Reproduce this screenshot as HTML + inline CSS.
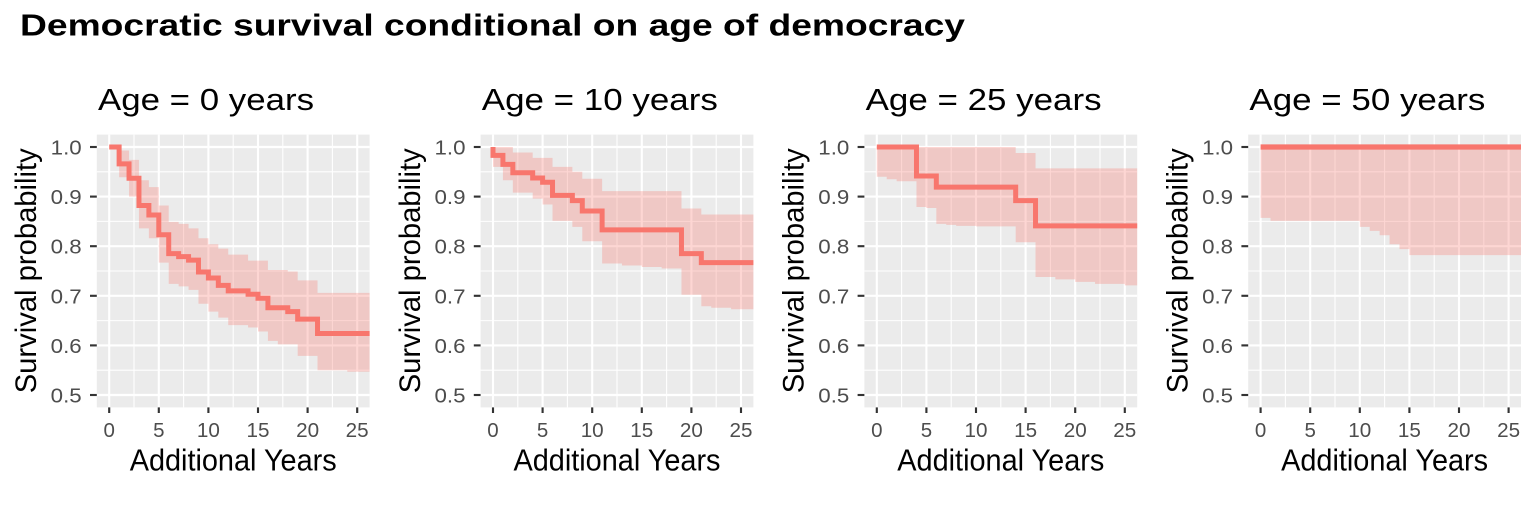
<!DOCTYPE html>
<html><head><meta charset="utf-8"><style>
html,body{margin:0;padding:0;background:#fff;}
svg{display:block;}
text{font-family:"Liberation Sans",Arial,sans-serif;}
.tl{font-size:20.5px;fill:#4D4D4D;}
.at{font-size:31px;fill:#000;}
.st{font-size:31px;fill:#000;}
</style></head><body>
<svg width="1536" height="518" viewBox="0 0 1536 518" xmlns="http://www.w3.org/2000/svg">
<defs><clipPath id="pc"><rect x="96.8" y="134.6" width="272.8" height="272.8"/></clipPath></defs>
<rect width="1536" height="518" fill="#fff"/>
<text x="20" y="35.5" font-size="30.5" font-weight="bold" textLength="945" lengthAdjust="spacingAndGlyphs" fill="#000">Democratic survival conditional on age of democracy</text>

<!-- PANEL 1 -->
<g>
<rect x="96.8" y="134.6" width="272.8" height="272.8" fill="#EBEBEB"/>
<g stroke="#fff" stroke-width="1.07">
<line x1="134" y1="134.6" x2="134" y2="407.4"/><line x1="183.6" y1="134.6" x2="183.6" y2="407.4"/><line x1="233.2" y1="134.6" x2="233.2" y2="407.4"/><line x1="282.8" y1="134.6" x2="282.8" y2="407.4"/><line x1="332.4" y1="134.6" x2="332.4" y2="407.4"/>
<line x1="96.8" y1="171.8" x2="369.6" y2="171.8"/><line x1="96.8" y1="221.4" x2="369.6" y2="221.4"/><line x1="96.8" y1="271" x2="369.6" y2="271"/><line x1="96.8" y1="320.6" x2="369.6" y2="320.6"/><line x1="96.8" y1="370.2" x2="369.6" y2="370.2"/>
</g>
<g stroke="#fff" stroke-width="2.13">
<line x1="109.2" y1="134.6" x2="109.2" y2="407.4"/><line x1="158.8" y1="134.6" x2="158.8" y2="407.4"/><line x1="208.4" y1="134.6" x2="208.4" y2="407.4"/><line x1="258" y1="134.6" x2="258" y2="407.4"/><line x1="307.6" y1="134.6" x2="307.6" y2="407.4"/><line x1="357.2" y1="134.6" x2="357.2" y2="407.4"/>
<line x1="96.8" y1="147" x2="369.6" y2="147"/><line x1="96.8" y1="196.6" x2="369.6" y2="196.6"/><line x1="96.8" y1="246.2" x2="369.6" y2="246.2"/><line x1="96.8" y1="295.8" x2="369.6" y2="295.8"/><line x1="96.8" y1="345.4" x2="369.6" y2="345.4"/><line x1="96.8" y1="395" x2="369.6" y2="395"/>
</g>
<g clip-path="url(#pc)"><g transform="matrix(9.92,0,0,-496,109.2,643)">
<path d="M1,.993 H2 V.974 H3 V.933 H4 V.919 H5 V.882 H6 V.849 H7 V.845 H8 V.836 H9 V.816 H10 V.804 H11 V.795 H12 V.783 H14 V.771 H16 V.752 H18 V.749 H19 V.731 H21 V.706 H27 V.547 H24 V.55 H21 V.579 H19 V.602 H17 V.609 H16 V.628 H15 V.636 H14 V.641 H12 V.656 H11 V.668 H10 V.684 H9 V.712 H8 V.719 H7 V.724 H6 V.767 H5 V.816 H4 V.836 H3 V.9 H2 V.939 H1 Z" fill="#F8766D" fill-opacity="0.3"/>
<path d="M0,1 H1 V.966 H2 V.937 H3 V.882 H4 V.863 H5 V.823 H6 V.785 H7 V.779 H8 V.772 H9 V.748 H10 V.736 H11 V.721 H12 V.71 H14 V.703 H15 V.695 H16 V.676 H18 V.668 H19 V.653 H21 V.624 H27" fill="none" stroke="#F8766D" stroke-width="5" vector-effect="non-scaling-stroke"/>
</g></g>
<g stroke="#333" stroke-width="2.13">
<line x1="90" y1="147" x2="96.8" y2="147"/><line x1="90" y1="196.6" x2="96.8" y2="196.6"/><line x1="90" y1="246.2" x2="96.8" y2="246.2"/><line x1="90" y1="295.8" x2="96.8" y2="295.8"/><line x1="90" y1="345.4" x2="96.8" y2="345.4"/><line x1="90" y1="395" x2="96.8" y2="395"/>
<line x1="109.2" y1="407.4" x2="109.2" y2="413"/><line x1="158.8" y1="407.4" x2="158.8" y2="413"/><line x1="208.4" y1="407.4" x2="208.4" y2="413"/><line x1="258" y1="407.4" x2="258" y2="413"/><line x1="307.6" y1="407.4" x2="307.6" y2="413"/><line x1="357.2" y1="407.4" x2="357.2" y2="413"/>
</g>
<g class="tl" text-anchor="end">
<text x="81.7" y="154.5" textLength="31" lengthAdjust="spacingAndGlyphs">1.0</text>
<text x="81.7" y="204.1" textLength="31" lengthAdjust="spacingAndGlyphs">0.9</text>
<text x="81.7" y="253.7" textLength="31" lengthAdjust="spacingAndGlyphs">0.8</text>
<text x="81.7" y="303.3" textLength="31" lengthAdjust="spacingAndGlyphs">0.7</text>
<text x="81.7" y="352.9" textLength="31" lengthAdjust="spacingAndGlyphs">0.6</text>
<text x="81.7" y="402.5" textLength="31" lengthAdjust="spacingAndGlyphs">0.5</text>
</g>
<g class="tl" text-anchor="middle">
<text x="109.2" y="437">0</text><text x="158.8" y="437">5</text>
<text x="208.4" y="437" textLength="23" lengthAdjust="spacingAndGlyphs">10</text>
<text x="258" y="437" textLength="23" lengthAdjust="spacingAndGlyphs">15</text>
<text x="307.6" y="437" textLength="23" lengthAdjust="spacingAndGlyphs">20</text>
<text x="357.2" y="437" textLength="23" lengthAdjust="spacingAndGlyphs">25</text>
</g>
<text class="at" x="233.2" y="470.7" text-anchor="middle" textLength="207" lengthAdjust="spacingAndGlyphs">Additional Years</text>
<text class="at" transform="translate(36,270.8) rotate(-90)" text-anchor="middle" textLength="245" lengthAdjust="spacingAndGlyphs" style="font-size:30px">Survival probability</text>
<text class="st" x="98" y="110" textLength="216" lengthAdjust="spacingAndGlyphs">Age = 0 years</text>
</g>

<!-- PANEL 2 -->
<g transform="translate(383.8,0)">
<rect x="96.8" y="134.6" width="272.8" height="272.8" fill="#EBEBEB"/>
<g stroke="#fff" stroke-width="1.07">
<line x1="134" y1="134.6" x2="134" y2="407.4"/><line x1="183.6" y1="134.6" x2="183.6" y2="407.4"/><line x1="233.2" y1="134.6" x2="233.2" y2="407.4"/><line x1="282.8" y1="134.6" x2="282.8" y2="407.4"/><line x1="332.4" y1="134.6" x2="332.4" y2="407.4"/>
<line x1="96.8" y1="171.8" x2="369.6" y2="171.8"/><line x1="96.8" y1="221.4" x2="369.6" y2="221.4"/><line x1="96.8" y1="271" x2="369.6" y2="271"/><line x1="96.8" y1="320.6" x2="369.6" y2="320.6"/><line x1="96.8" y1="370.2" x2="369.6" y2="370.2"/>
</g>
<g stroke="#fff" stroke-width="2.13">
<line x1="109.2" y1="134.6" x2="109.2" y2="407.4"/><line x1="158.8" y1="134.6" x2="158.8" y2="407.4"/><line x1="208.4" y1="134.6" x2="208.4" y2="407.4"/><line x1="258" y1="134.6" x2="258" y2="407.4"/><line x1="307.6" y1="134.6" x2="307.6" y2="407.4"/><line x1="357.2" y1="134.6" x2="357.2" y2="407.4"/>
<line x1="96.8" y1="147" x2="369.6" y2="147"/><line x1="96.8" y1="196.6" x2="369.6" y2="196.6"/><line x1="96.8" y1="246.2" x2="369.6" y2="246.2"/><line x1="96.8" y1="295.8" x2="369.6" y2="295.8"/><line x1="96.8" y1="345.4" x2="369.6" y2="345.4"/><line x1="96.8" y1="395" x2="369.6" y2="395"/>
</g>
<g clip-path="url(#pc)"><g transform="matrix(9.92,0,0,-496,109.2,643)">
<path d="M0,1 H2 V.989 H4 V.978 H6 V.96 H8 V.95 H9 V.936 H11 V.911 H19 V.876 H21 V.864 H27 V.673 H24 V.676 H22 V.679 H21 V.702 H19 V.755 H17 V.758 H15 V.761 H13 V.765 H11 V.81 H9 V.839 H8 V.851 H6 V.884 H5 V.896 H4 V.908 H2 V.933 H1 V.96 H0 Z" fill="#F8766D" fill-opacity="0.3"/>
<path d="M0,1 V.983 H1 V.965 H2 V.948 H4 V.9375 H5 V.929 H6 V.9025 H8 V.892 H9 V.871 H11 V.833 H19 V.785 H21 V.767 H27" fill="none" stroke="#F8766D" stroke-width="5" vector-effect="non-scaling-stroke"/>
</g></g>
<g stroke="#333" stroke-width="2.13">
<line x1="90" y1="147" x2="96.8" y2="147"/><line x1="90" y1="196.6" x2="96.8" y2="196.6"/><line x1="90" y1="246.2" x2="96.8" y2="246.2"/><line x1="90" y1="295.8" x2="96.8" y2="295.8"/><line x1="90" y1="345.4" x2="96.8" y2="345.4"/><line x1="90" y1="395" x2="96.8" y2="395"/>
<line x1="109.2" y1="407.4" x2="109.2" y2="413"/><line x1="158.8" y1="407.4" x2="158.8" y2="413"/><line x1="208.4" y1="407.4" x2="208.4" y2="413"/><line x1="258" y1="407.4" x2="258" y2="413"/><line x1="307.6" y1="407.4" x2="307.6" y2="413"/><line x1="357.2" y1="407.4" x2="357.2" y2="413"/>
</g>
<g class="tl" text-anchor="end">
<text x="81.7" y="154.5" textLength="31" lengthAdjust="spacingAndGlyphs">1.0</text>
<text x="81.7" y="204.1" textLength="31" lengthAdjust="spacingAndGlyphs">0.9</text>
<text x="81.7" y="253.7" textLength="31" lengthAdjust="spacingAndGlyphs">0.8</text>
<text x="81.7" y="303.3" textLength="31" lengthAdjust="spacingAndGlyphs">0.7</text>
<text x="81.7" y="352.9" textLength="31" lengthAdjust="spacingAndGlyphs">0.6</text>
<text x="81.7" y="402.5" textLength="31" lengthAdjust="spacingAndGlyphs">0.5</text>
</g>
<g class="tl" text-anchor="middle">
<text x="109.2" y="437">0</text><text x="158.8" y="437">5</text>
<text x="208.4" y="437" textLength="23" lengthAdjust="spacingAndGlyphs">10</text>
<text x="258" y="437" textLength="23" lengthAdjust="spacingAndGlyphs">15</text>
<text x="307.6" y="437" textLength="23" lengthAdjust="spacingAndGlyphs">20</text>
<text x="357.2" y="437" textLength="23" lengthAdjust="spacingAndGlyphs">25</text>
</g>
<text class="at" x="233.2" y="470.7" text-anchor="middle" textLength="207" lengthAdjust="spacingAndGlyphs">Additional Years</text>
<text class="at" transform="translate(36,270.8) rotate(-90)" text-anchor="middle" textLength="245" lengthAdjust="spacingAndGlyphs" style="font-size:30px">Survival probability</text>
<text class="st" x="98" y="110" textLength="236" lengthAdjust="spacingAndGlyphs">Age = 10 years</text>
</g>

<!-- PANEL 3 -->
<g transform="translate(767.6,0)">
<rect x="96.8" y="134.6" width="272.8" height="272.8" fill="#EBEBEB"/>
<g stroke="#fff" stroke-width="1.07">
<line x1="134" y1="134.6" x2="134" y2="407.4"/><line x1="183.6" y1="134.6" x2="183.6" y2="407.4"/><line x1="233.2" y1="134.6" x2="233.2" y2="407.4"/><line x1="282.8" y1="134.6" x2="282.8" y2="407.4"/><line x1="332.4" y1="134.6" x2="332.4" y2="407.4"/>
<line x1="96.8" y1="171.8" x2="369.6" y2="171.8"/><line x1="96.8" y1="221.4" x2="369.6" y2="221.4"/><line x1="96.8" y1="271" x2="369.6" y2="271"/><line x1="96.8" y1="320.6" x2="369.6" y2="320.6"/><line x1="96.8" y1="370.2" x2="369.6" y2="370.2"/>
</g>
<g stroke="#fff" stroke-width="2.13">
<line x1="109.2" y1="134.6" x2="109.2" y2="407.4"/><line x1="158.8" y1="134.6" x2="158.8" y2="407.4"/><line x1="208.4" y1="134.6" x2="208.4" y2="407.4"/><line x1="258" y1="134.6" x2="258" y2="407.4"/><line x1="307.6" y1="134.6" x2="307.6" y2="407.4"/><line x1="357.2" y1="134.6" x2="357.2" y2="407.4"/>
<line x1="96.8" y1="147" x2="369.6" y2="147"/><line x1="96.8" y1="196.6" x2="369.6" y2="196.6"/><line x1="96.8" y1="246.2" x2="369.6" y2="246.2"/><line x1="96.8" y1="295.8" x2="369.6" y2="295.8"/><line x1="96.8" y1="345.4" x2="369.6" y2="345.4"/><line x1="96.8" y1="395" x2="369.6" y2="395"/>
</g>
<g clip-path="url(#pc)"><g transform="matrix(9.92,0,0,-496,109.2,643)">
<path d="M0,1 H14 V.988 H16 V.957 H27 V.721 H25 V.724 H22 V.728 H20 V.733 H18 V.738 H16 V.808 H14 V.84 H10 V.841 H8 V.843 H7 V.845 H6 V.877 H5 V.879 H4 V.931 H2 V.935 H1 V.94 H0 Z" fill="#F8766D" fill-opacity="0.3"/>
<path d="M0,1 H4 V.9415 H6 V.919 H14 V.892 H16 V.841 H27" fill="none" stroke="#F8766D" stroke-width="5" vector-effect="non-scaling-stroke"/>
</g></g>
<g stroke="#333" stroke-width="2.13">
<line x1="90" y1="147" x2="96.8" y2="147"/><line x1="90" y1="196.6" x2="96.8" y2="196.6"/><line x1="90" y1="246.2" x2="96.8" y2="246.2"/><line x1="90" y1="295.8" x2="96.8" y2="295.8"/><line x1="90" y1="345.4" x2="96.8" y2="345.4"/><line x1="90" y1="395" x2="96.8" y2="395"/>
<line x1="109.2" y1="407.4" x2="109.2" y2="413"/><line x1="158.8" y1="407.4" x2="158.8" y2="413"/><line x1="208.4" y1="407.4" x2="208.4" y2="413"/><line x1="258" y1="407.4" x2="258" y2="413"/><line x1="307.6" y1="407.4" x2="307.6" y2="413"/><line x1="357.2" y1="407.4" x2="357.2" y2="413"/>
</g>
<g class="tl" text-anchor="end">
<text x="81.7" y="154.5" textLength="31" lengthAdjust="spacingAndGlyphs">1.0</text>
<text x="81.7" y="204.1" textLength="31" lengthAdjust="spacingAndGlyphs">0.9</text>
<text x="81.7" y="253.7" textLength="31" lengthAdjust="spacingAndGlyphs">0.8</text>
<text x="81.7" y="303.3" textLength="31" lengthAdjust="spacingAndGlyphs">0.7</text>
<text x="81.7" y="352.9" textLength="31" lengthAdjust="spacingAndGlyphs">0.6</text>
<text x="81.7" y="402.5" textLength="31" lengthAdjust="spacingAndGlyphs">0.5</text>
</g>
<g class="tl" text-anchor="middle">
<text x="109.2" y="437">0</text><text x="158.8" y="437">5</text>
<text x="208.4" y="437" textLength="23" lengthAdjust="spacingAndGlyphs">10</text>
<text x="258" y="437" textLength="23" lengthAdjust="spacingAndGlyphs">15</text>
<text x="307.6" y="437" textLength="23" lengthAdjust="spacingAndGlyphs">20</text>
<text x="357.2" y="437" textLength="23" lengthAdjust="spacingAndGlyphs">25</text>
</g>
<text class="at" x="233.2" y="470.7" text-anchor="middle" textLength="207" lengthAdjust="spacingAndGlyphs">Additional Years</text>
<text class="at" transform="translate(36,270.8) rotate(-90)" text-anchor="middle" textLength="245" lengthAdjust="spacingAndGlyphs" style="font-size:30px">Survival probability</text>
<text class="st" x="98" y="110" textLength="236" lengthAdjust="spacingAndGlyphs">Age = 25 years</text>
</g>

<!-- PANEL 4 -->
<g transform="translate(1151.4,0)">
<rect x="96.8" y="134.6" width="272.8" height="272.8" fill="#EBEBEB"/>
<g stroke="#fff" stroke-width="1.07">
<line x1="134" y1="134.6" x2="134" y2="407.4"/><line x1="183.6" y1="134.6" x2="183.6" y2="407.4"/><line x1="233.2" y1="134.6" x2="233.2" y2="407.4"/><line x1="282.8" y1="134.6" x2="282.8" y2="407.4"/><line x1="332.4" y1="134.6" x2="332.4" y2="407.4"/>
<line x1="96.8" y1="171.8" x2="369.6" y2="171.8"/><line x1="96.8" y1="221.4" x2="369.6" y2="221.4"/><line x1="96.8" y1="271" x2="369.6" y2="271"/><line x1="96.8" y1="320.6" x2="369.6" y2="320.6"/><line x1="96.8" y1="370.2" x2="369.6" y2="370.2"/>
</g>
<g stroke="#fff" stroke-width="2.13">
<line x1="109.2" y1="134.6" x2="109.2" y2="407.4"/><line x1="158.8" y1="134.6" x2="158.8" y2="407.4"/><line x1="208.4" y1="134.6" x2="208.4" y2="407.4"/><line x1="258" y1="134.6" x2="258" y2="407.4"/><line x1="307.6" y1="134.6" x2="307.6" y2="407.4"/><line x1="357.2" y1="134.6" x2="357.2" y2="407.4"/>
<line x1="96.8" y1="147" x2="369.6" y2="147"/><line x1="96.8" y1="196.6" x2="369.6" y2="196.6"/><line x1="96.8" y1="246.2" x2="369.6" y2="246.2"/><line x1="96.8" y1="295.8" x2="369.6" y2="295.8"/><line x1="96.8" y1="345.4" x2="369.6" y2="345.4"/><line x1="96.8" y1="395" x2="369.6" y2="395"/>
</g>
<g clip-path="url(#pc)"><g transform="matrix(9.92,0,0,-496,109.2,643)">
<path d="M0,1 H27 V.782 H15 V.794 H14 V.804 H13 V.822 H12 V.831 H11 V.839 H10 V.851 H1 V.857 H0 Z" fill="#F8766D" fill-opacity="0.3"/>
<path d="M0,1 H27" fill="none" stroke="#F8766D" stroke-width="5.2" vector-effect="non-scaling-stroke"/>
</g></g>
<g stroke="#333" stroke-width="2.13">
<line x1="90" y1="147" x2="96.8" y2="147"/><line x1="90" y1="196.6" x2="96.8" y2="196.6"/><line x1="90" y1="246.2" x2="96.8" y2="246.2"/><line x1="90" y1="295.8" x2="96.8" y2="295.8"/><line x1="90" y1="345.4" x2="96.8" y2="345.4"/><line x1="90" y1="395" x2="96.8" y2="395"/>
<line x1="109.2" y1="407.4" x2="109.2" y2="413"/><line x1="158.8" y1="407.4" x2="158.8" y2="413"/><line x1="208.4" y1="407.4" x2="208.4" y2="413"/><line x1="258" y1="407.4" x2="258" y2="413"/><line x1="307.6" y1="407.4" x2="307.6" y2="413"/><line x1="357.2" y1="407.4" x2="357.2" y2="413"/>
</g>
<g class="tl" text-anchor="end">
<text x="81.7" y="154.5" textLength="31" lengthAdjust="spacingAndGlyphs">1.0</text>
<text x="81.7" y="204.1" textLength="31" lengthAdjust="spacingAndGlyphs">0.9</text>
<text x="81.7" y="253.7" textLength="31" lengthAdjust="spacingAndGlyphs">0.8</text>
<text x="81.7" y="303.3" textLength="31" lengthAdjust="spacingAndGlyphs">0.7</text>
<text x="81.7" y="352.9" textLength="31" lengthAdjust="spacingAndGlyphs">0.6</text>
<text x="81.7" y="402.5" textLength="31" lengthAdjust="spacingAndGlyphs">0.5</text>
</g>
<g class="tl" text-anchor="middle">
<text x="109.2" y="437">0</text><text x="158.8" y="437">5</text>
<text x="208.4" y="437" textLength="23" lengthAdjust="spacingAndGlyphs">10</text>
<text x="258" y="437" textLength="23" lengthAdjust="spacingAndGlyphs">15</text>
<text x="307.6" y="437" textLength="23" lengthAdjust="spacingAndGlyphs">20</text>
<text x="357.2" y="437" textLength="23" lengthAdjust="spacingAndGlyphs">25</text>
</g>
<text class="at" x="233.2" y="470.7" text-anchor="middle" textLength="207" lengthAdjust="spacingAndGlyphs">Additional Years</text>
<text class="at" transform="translate(36,270.8) rotate(-90)" text-anchor="middle" textLength="245" lengthAdjust="spacingAndGlyphs" style="font-size:30px">Survival probability</text>
<text class="st" x="98" y="110" textLength="236" lengthAdjust="spacingAndGlyphs">Age = 50 years</text>
</g>
</svg>
</body></html>
